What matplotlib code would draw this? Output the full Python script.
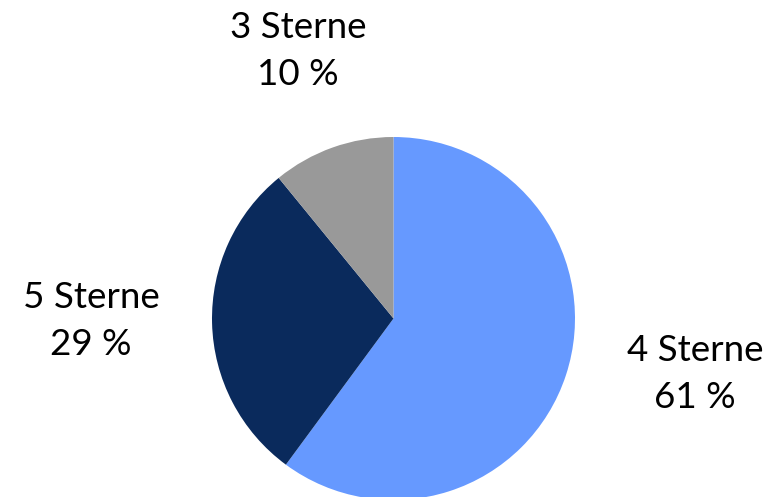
import matplotlib
matplotlib.use("Agg")
import matplotlib.pyplot as plt

labels = ["4 Sterne", "5 Sterne", "3 Sterne"]
pct_labels = ["61 %", "29 %", "10 %"]
values = [60.1, 29.0, 10.9]
colors = ["#6699FF", "#0A2A5C", "#999999"]

W, H = 778, 497
fig = plt.figure(figsize=(W / 100, H / 100), dpi=100)
cx, cy, r = 393.5, 318.5, 181.5
ax = fig.add_axes([(cx - r) / W, (H - cy - r) / H, 2 * r / W, 2 * r / H])
ax.pie(values, colors=colors, startangle=90, counterclock=False, radius=1.0,
       wedgeprops=dict(linewidth=0))
ax.set_xlim(-1, 1)
ax.set_ylim(-1, 1)
ax.set_aspect("equal")
ax.axis("off")

label_pos = [(695, 374), (91, 321), (298, 51)]
for lab, p, (px, py) in zip(labels, pct_labels, label_pos):
    fig.text(px / W, 1 - py / H, f"{lab}\n{p}", ha="center", va="center",
             fontsize=26.5, family=["Lato", "DejaVu Sans"], color="#000000",
             linespacing=1.5)

fig.savefig("out.png", dpi=100)
